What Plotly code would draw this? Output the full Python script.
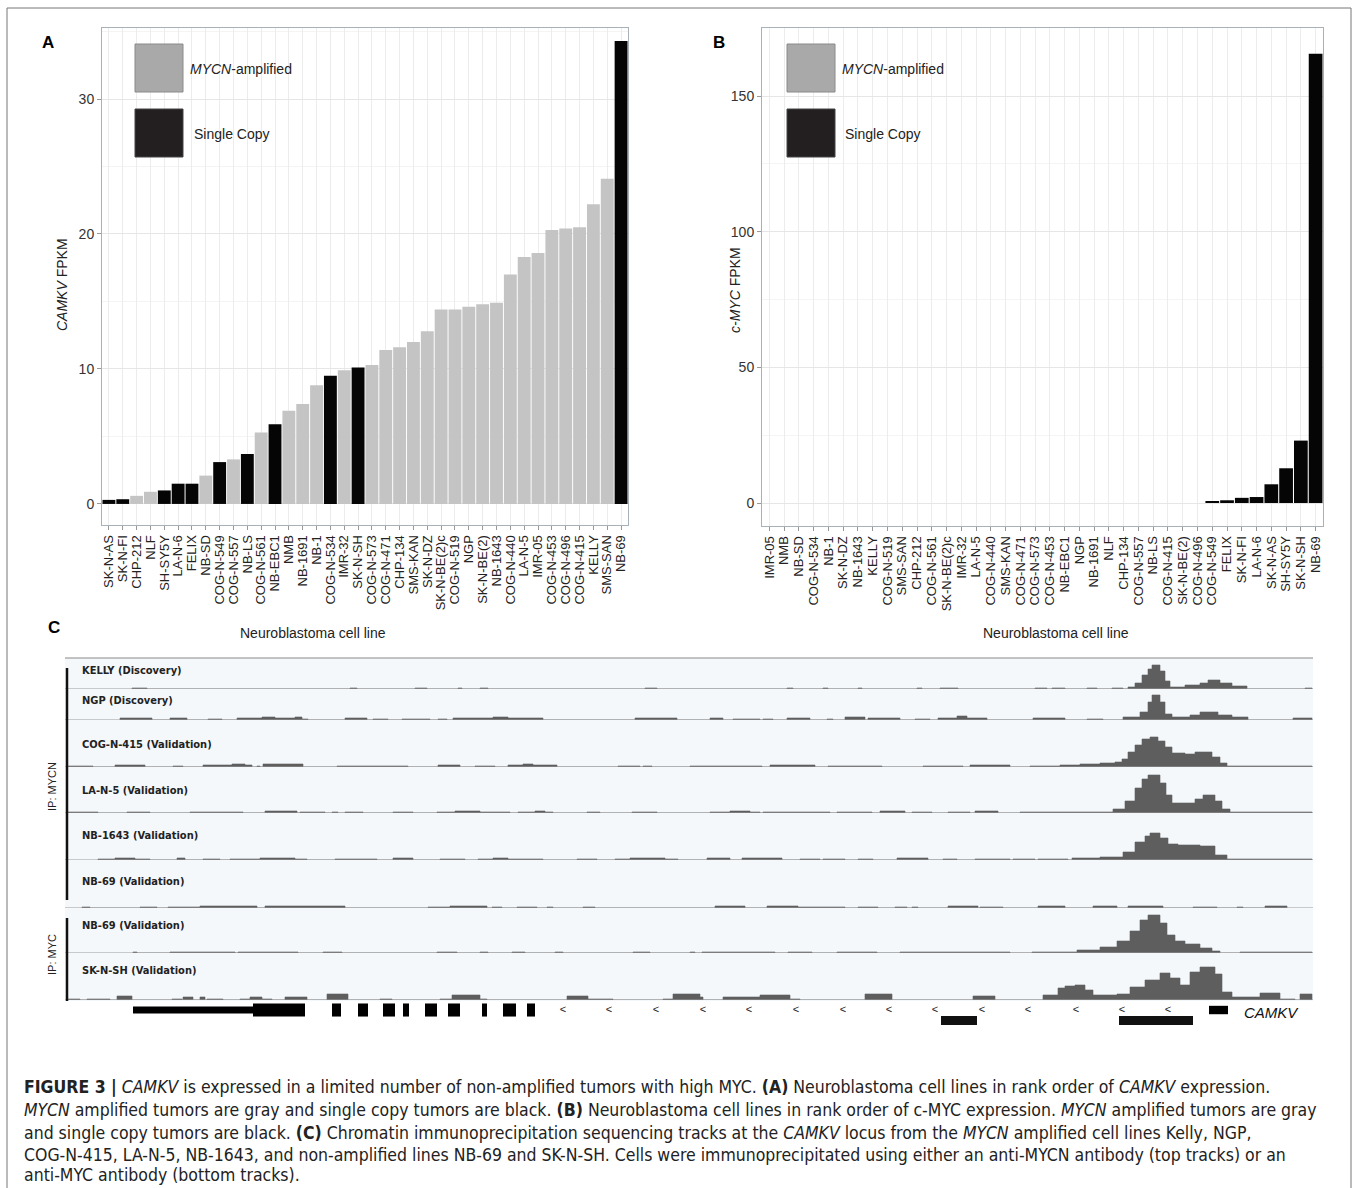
import plotly.graph_objects as go

W, H = 1358, 1188
def X(px): return px / W
def Y(py): return 1 - py / H

# ---------------- Panel A data ----------------
A_labels = ["SK-N-AS", "SK-N-FI", "CHP-212", "NLF", "SH-SY5Y", "LA-N-6", "FELIX", "NB-SD",
            "COG-N-549", "COG-N-557", "NB-LS", "COG-N-561", "NB-EBC1", "NMB", "NB-1691", "NB-1",
            "COG-N-534", "IMR-32", "SK-N-SH", "COG-N-573", "COG-N-471", "CHP-134", "SMS-KAN",
            "SK-N-DZ", "SK-N-BE(2)c", "COG-N-519", "NGP", "SK-N-BE(2)", "NB-1643", "COG-N-440",
            "LA-N-5", "IMR-05", "COG-N-453", "COG-N-496", "COG-N-415", "KELLY", "SMS-SAN", "NB-69"]
A_values = [0.3, 0.35, 0.6, 0.9, 1.0, 1.5, 1.5, 2.1, 3.1, 3.3, 3.7, 5.3, 5.9, 6.9, 7.4, 8.8,
            9.5, 9.9, 10.1, 10.3, 11.4, 11.6, 12.0, 12.8, 14.4, 14.4, 14.6, 14.8, 14.9, 17.0,
            18.3, 18.6, 20.3, 20.4, 20.5, 22.2, 24.1, 34.3]
single_copy = ["SK-N-AS", "SK-N-FI", "SH-SY5Y", "LA-N-6", "FELIX", "COG-N-549", "NB-LS",
               "NB-EBC1", "COG-N-534", "SK-N-SH", "NB-69"]

# ---------------- Panel B data ----------------
B_labels = ["IMR-05", "NMB", "NB-SD", "COG-N-534", "NB-1", "SK-N-DZ", "NB-1643", "KELLY",
            "COG-N-519", "SMS-SAN", "CHP-212", "COG-N-561", "SK-N-BE(2)c", "IMR-32", "LA-N-5",
            "COG-N-440", "SMS-KAN", "COG-N-471", "COG-N-573", "COG-N-453", "NB-EBC1", "NGP",
            "NB-1691", "NLF", "CHP-134", "COG-N-557", "NB-LS", "COG-N-415", "SK-N-BE(2)",
            "COG-N-496", "COG-N-549", "FELIX", "SK-N-FI", "LA-N-6", "SK-N-AS", "SH-SY5Y",
            "SK-N-SH", "NB-69"]
B_values = [0, 0, 0, 0, 0, 0, 0, 0, 0, 0, 0, 0, 0, 0, 0, 0, 0, 0, 0, 0, 0, 0, 0, 0, 0, 0, 0,
            0, 0, 0, 0.5, 1.0, 1.9, 2.2, 6.9, 12.8, 23.0, 165.6]

GRAY_BAR = "#c4c4c4"
BLACK_BAR = "#050505"

# ---------------- Panel C data (segments: start, end, signal) ----------------
track_names = ["KELLY (Discovery)", "NGP (Discovery)", "COG-N-415 (Validation)",
               "LA-N-5 (Validation)", "NB-1643 (Validation)", "NB-69 (Validation)",
               "NB-69 (Validation)", "SK-N-SH (Validation)"]

kelly_mycn = [(132,147,1),(350,357,1),(415,427,1),(458,462,1),(480,488,1),(645,657,1),(787,793,1),
    (823,828,1),(858,862,1),(917,922,1),(940,958,1),(1035,1047,1),(1052,1065,1),(1087,1097,1),
    (1112,1123,1),(1128,1135,2),(1135,1142,6),(1142,1148,14),(1148,1152,20),(1152,1160,24),
    (1160,1165,18),(1165,1170,8),(1170,1185,2),(1185,1200,4),(1200,1208,6),(1208,1220,9),
    (1220,1232,6),(1232,1247,3),(1305,1312,1)]
ngp_mycn = [(120,152,2),(170,187,2),(208,222,1),(237,262,2),(262,275,3),(275,295,2),(295,302,3),
    (302,308,1),(345,367,2),(373,388,1),(402,430,1),(438,447,1),(453,493,2),(493,508,3),
    (508,543,2),(635,677,2),(710,723,2),(733,760,1),(763,773,1),(787,810,2),(827,833,1),
    (845,865,3),(868,900,2),(915,930,1),(938,957,2),(957,967,4),(967,987,2),(1033,1065,2),
    (1087,1103,1),(1123,1140,3),(1140,1148,8),(1148,1152,18),(1152,1160,25),(1160,1165,18),
    (1165,1172,6),(1172,1190,3),(1190,1200,5),(1200,1218,8),(1218,1232,5),(1232,1248,3),
    (1293,1312,2)]
cog415_mycn = [(68,93,1),(115,145,2),(173,183,1),(203,232,2),(232,245,3),(245,252,2),(257,260,1),
    (263,303,3),(337,408,1),(438,460,2),(475,495,1),(508,523,2),(523,533,3),(533,557,2),
    (618,640,1),(643,652,1),(690,762,1),(770,815,2),(828,882,1),(923,963,1),(970,1010,2),
    (1030,1060,1),(1060,1080,2),(1080,1100,3),(1100,1115,4),(1115,1122,5),(1122,1128,8),
    (1128,1135,15),(1135,1142,22),(1142,1150,28),(1150,1158,30),(1158,1165,26),(1165,1172,20),
    (1172,1185,14),(1185,1195,13),(1195,1212,15),(1212,1220,10),(1220,1227,4),(1227,1312,1)]
lan5_mycn = [(68,98,1),(127,150,1),(190,243,1),(265,297,2),(300,325,1),(332,338,1),(345,363,1),
    (393,413,1),(437,455,1),(455,480,2),(480,510,1),(518,535,1),(535,545,2),(545,553,1),
    (587,600,1),(632,657,1),(710,730,1),(730,750,2),(750,760,1),(763,830,1),(837,872,1),
    (880,905,2),(912,932,1),(948,970,1),(975,998,2),(1020,1113,1),(1113,1125,4),(1125,1135,12),
    (1135,1142,25),(1142,1148,34),(1148,1160,38),(1160,1166,30),(1166,1172,18),(1172,1195,10),
    (1195,1203,14),(1203,1215,18),(1215,1222,12),(1222,1230,4),(1230,1312,1)]
nb1643_mycn = [(98,115,1),(115,135,2),(135,150,1),(177,185,2),(203,220,1),(230,260,1),(260,295,2),
    (295,307,1),(335,377,1),(393,413,2),(440,465,1),(478,493,1),(493,508,2),(508,543,1),
    (577,597,1),(615,630,1),(630,665,2),(665,678,1),(707,730,2),(742,782,2),(800,820,1),
    (823,845,1),(858,873,1),(897,928,2),(943,957,1),(975,1010,1),(1013,1035,1),(1038,1068,1),
    (1072,1100,2),(1100,1123,3),(1123,1135,8),(1135,1145,18),(1145,1150,24),(1150,1160,27),
    (1160,1168,22),(1168,1178,16),(1178,1200,15),(1200,1215,14),(1215,1227,5),(1227,1312,1)]
nb69_mycn = [(82,90,1),(140,157,1),(168,200,1),(200,257,2),(265,345,2),(428,450,1),(450,487,2),
    (492,502,1),(517,537,1),(547,553,1),(583,595,1),(715,745,2),(767,798,2),(798,845,1),
    (858,878,1),(895,907,1),(912,918,1),(948,978,2),(980,1003,1),(1038,1065,2),(1093,1117,2),
    (1128,1163,2),(1193,1217,1),(1237,1243,1),(1265,1287,2)]
nb69_myc = [(133,137,1),(170,235,1),(238,298,1),(323,342,1),(437,457,1),(480,488,1),(512,525,1),
    (555,563,1),(633,650,1),(690,695,1),(702,775,1),(788,812,1),(837,877,1),(900,1010,1),
    (1032,1077,1),(1077,1100,3),(1100,1117,6),(1117,1130,12),(1130,1140,22),(1140,1148,33),
    (1148,1160,38),(1160,1167,30),(1167,1175,18),(1175,1185,12),(1185,1200,9),(1200,1212,5),
    (1212,1220,2),(1240,1312,1)]
sknsh_myc = [(67,80,1),(87,110,1),(117,132,4),(172,182,1),(183,193,3),(200,205,3),(207,223,1),
    (240,250,1),(250,262,3),(262,272,1),(285,307,3),(327,348,6),(380,392,1),(440,452,1),
    (452,480,5),(480,487,1),(567,588,4),(588,613,1),(663,673,1),(673,700,6),(700,703,3),
    (723,760,3),(760,790,5),(790,800,1),(865,892,6),(973,995,4),(1043,1058,5),(1058,1065,12),
    (1065,1075,14),(1075,1085,15),(1085,1093,10),(1093,1117,5),(1117,1130,6),(1130,1145,13),
    (1145,1160,20),(1160,1170,27),(1170,1180,22),(1180,1190,15),(1190,1200,28),(1200,1215,33),
    (1215,1222,26),(1222,1232,8),(1232,1260,3),(1260,1280,7),(1280,1295,1),(1300,1312,6)]
track_data = [kelly_mycn, ngp_mycn, cog415_mycn, lan5_mycn, nb1643_mycn, nb69_mycn, nb69_myc, sknsh_myc]

# gene model (CAMKV, minus strand)
gene_utr = [(133, 253)]
gene_exons = [(253, 305), (332, 341), (358, 368), (383, 395), (403, 409), (425, 437), (448, 460),
              (482, 487), (503, 516), (527, 535)]
gene_arrows = [563, 609, 656, 703, 749, 796, 843, 889, 935, 982, 1028, 1076, 1122, 1168]
other_blocks_low = [(941, 977), (1119, 1193)]
other_blocks_high = [(1209, 1228)]
LOCUS = (65, 1313)

# ---------------- layout geometry (px) ----------------
track_rows = [(659, 689), (689, 720), (720, 767), (767, 813), (813, 860), (860, 908), (911, 953), (953, 1000)]
label_py = [670, 700, 745, 790, 835, 881, 925, 970]
TRACK_COLOR = "#5e5e5e"
FONT = "Liberation Sans, Arial, sans-serif"
NARROW = "Liberation Sans Narrow, DejaVu Sans Condensed, Liberation Sans, sans-serif"

fig = go.Figure()

fig.add_trace(go.Bar(x=A_labels, y=A_values,
                     marker=dict(color=[BLACK_BAR if c in single_copy else GRAY_BAR for c in A_labels], line=dict(width=0)),
                     xaxis="x", yaxis="y", showlegend=False))
fig.add_trace(go.Bar(x=B_labels, y=B_values,
                     marker=dict(color=[BLACK_BAR if c in single_copy else GRAY_BAR for c in B_labels], line=dict(width=0)),
                     xaxis="x2", yaxis="y2", showlegend=False))

for i, segs in enumerate(track_data):
    xs, ys = [], []
    for s, e, h in segs:
        xs += [s, s, e, e]
        ys += [0, h, h, 0]
    fig.add_trace(go.Scatter(x=xs, y=ys, mode="lines", fill="tozeroy", fillcolor=TRACK_COLOR,
                             line=dict(color=TRACK_COLOR, width=0.6), xaxis="x3", yaxis=f"y{i+3}",
                             showlegend=False, hoverinfo="skip"))

fig.add_trace(go.Scatter(x=gene_arrows, y=[0] * len(gene_arrows), mode="text", text=["<"] * len(gene_arrows),
                         textfont=dict(size=11, color="#222", family=FONT), xaxis="x3", yaxis="y11",
                         showlegend=False, hoverinfo="skip"))

shapes = []
annotations = []

def ann(px, py, text, size, family=FONT, color="#222", xanchor="center", angle=0):
    annotations.append(dict(xref="paper", yref="paper", x=X(px), y=Y(py), xanchor=xanchor, yanchor="middle",
                            text=text, showarrow=False, textangle=angle,
                            font=dict(size=size, family=family, color=color)))

# outer border
shapes.append(dict(type="rect", xref="paper", yref="paper", x0=X(7), x1=X(1351), y0=Y(1200), y1=Y(8),
                   line=dict(color="#777", width=1)))

# legends A and B
for (gx, tx1, tx2) in [(135, 188, 192), (787, 840, 843)]:
    shapes.append(dict(type="rect", xref="paper", yref="paper", x0=X(gx), x1=X(gx + 48), y0=Y(92), y1=Y(44),
                       fillcolor="#a9a9a9", line=dict(color="#8a8a8a", width=1)))
    shapes.append(dict(type="rect", xref="paper", yref="paper", x0=X(gx), x1=X(gx + 48), y0=Y(157), y1=Y(109),
                       fillcolor="#231f20", line=dict(color="#444", width=1)))
    ann(tx1, 69, "<i>MYCN</i>-amplified", 14, xanchor="left")
    ann(tx2, 134, "Single Copy", 14, xanchor="left")

# panel letters
for txt, px, py in [("A", 40, 42), ("B", 711, 42), ("C", 46, 627)]:
    ann(px, py, f"<b>{txt}</b>", 17, color="#000", xanchor="left")

# axis titles
ann(62, 285, "<i>CAMKV</i> FPKM", 14, angle=-90)
ann(735, 290, "<i>c-MYC</i> FPKM", 14, angle=-90)
ann(313, 633, "Neuroblastoma cell line", 14)
ann(1056, 633, "Neuroblastoma cell line", 14)

# track background and lines
shapes.append(dict(type="rect", xref="paper", yref="paper", x0=X(65), x1=X(1313), y0=Y(1001), y1=Y(658),
                   fillcolor="#f4f8fb", line=dict(width=0), layer="below"))
shapes.append(dict(type="line", xref="paper", yref="paper", x0=X(65), x1=X(1313), y0=Y(658), y1=Y(658),
                   line=dict(color="#888", width=1)))
for i in range(len(track_data)):
    shapes.append(dict(type="line", xref="x3 domain", yref=f"y{i+3}", x0=0, x1=1, y0=0, y1=0,
                       line=dict(color="#9a9a9a", width=1)))
    ann(80, label_py[i], f"<b>{track_names[i]}</b>", 11, family=NARROW, xanchor="left")

# IP group brackets
shapes.append(dict(type="line", xref="paper", yref="paper", x0=X(67), x1=X(67), y0=Y(900), y1=Y(668),
                   line=dict(color="#111", width=2.5)))
shapes.append(dict(type="line", xref="paper", yref="paper", x0=X(67), x1=X(67), y0=Y(1001), y1=Y(918),
                   line=dict(color="#111", width=2.5)))
ann(52, 787, "IP: MYCN", 11, angle=-90)
ann(52, 955, "IP: MYC", 11, angle=-90)

# gene model
for s, e in gene_utr:
    shapes.append(dict(type="rect", xref="x3", yref="y11", x0=s, x1=e, y0=-0.33, y1=0.33,
                       fillcolor="#000", line=dict(width=0)))
for s, e in gene_exons:
    shapes.append(dict(type="rect", xref="x3", yref="y11", x0=s, x1=e, y0=-0.62, y1=0.62,
                       fillcolor="#000", line=dict(width=0)))
for s, e in other_blocks_low:
    shapes.append(dict(type="rect", xref="x3", yref="y11", x0=s, x1=e, y0=-1.43, y1=-0.57,
                       fillcolor="#111", line=dict(width=0)))
for s, e in other_blocks_high:
    shapes.append(dict(type="rect", xref="x3", yref="y11", x0=s, x1=e, y0=-0.4, y1=0.4,
                       fillcolor="#000", line=dict(width=0)))
ann(1242, 1012, "<i>CAMKV</i>", 15, color="#111", xanchor="left")

# caption
caption = [
    "<b>FIGURE 3 |</b> <i>CAMKV</i> is expressed in a limited number of non-amplified tumors with high MYC. <b>(A)</b> Neuroblastoma cell lines in rank order of <i>CAMKV</i> expression.",
    "<i>MYCN</i> amplified tumors are gray and single copy tumors are black. <b>(B)</b> Neuroblastoma cell lines in rank order of c-MYC expression. <i>MYCN</i> amplified tumors are gray",
    "and single copy tumors are black. <b>(C)</b> Chromatin immunoprecipitation sequencing tracks at the <i>CAMKV</i> locus from the <i>MYCN</i> amplified cell lines Kelly, NGP,",
    "COG-N-415, LA-N-5, NB-1643, and non-amplified lines NB-69 and SK-N-SH. Cells were immunoprecipitated using either an anti-MYCN antibody (top tracks) or an",
    "anti-MYC antibody (bottom tracks).",
]
cap_py = [1087, 1110, 1133, 1155, 1175]
for t, py in zip(caption, cap_py):
    ann(22, py, t, 17.5, family=NARROW, xanchor="left")

bar_axis_common = dict(showline=True, linecolor="#a8b0b8", linewidth=1, mirror=True, showgrid=True,
                       gridcolor="#ececec", ticks="outside", ticklen=4, tickcolor="#999",
                       tickangle=-90, tickfont=dict(size=13, family=FONT, color="#222"), fixedrange=True)
yaxis_common = dict(showline=True, linecolor="#a8b0b8", linewidth=1, mirror=True, showgrid=True,
                    gridcolor="#e6e6e6", ticks="outside", ticklen=4, tickcolor="#999", zeroline=False,
                    tickfont=dict(size=14, family=FONT, color="#333"))

layout = dict(
    width=W, height=H, margin=dict(l=0, r=0, t=0, b=0), paper_bgcolor="white", plot_bgcolor="white",
    bargap=0.07, showlegend=False, shapes=shapes, annotations=annotations,
    xaxis=dict(domain=[X(102), X(628)], anchor="y", tickmode="array", tickvals=A_labels, ticktext=A_labels,
               **bar_axis_common),
    yaxis=dict(domain=[Y(525), Y(28)], anchor="x", range=[-1.56, 35.26], tickvals=[0, 10, 20, 30],
               minor=dict(dtick=5, showgrid=True, gridcolor="#f4f4f4"), **yaxis_common),
    xaxis2=dict(domain=[X(762), X(1323)], anchor="y2", tickmode="array", tickvals=B_labels, ticktext=B_labels,
                **bar_axis_common),
    yaxis2=dict(domain=[Y(526), Y(28)], anchor="x2", range=[-8.48, 175.1], tickvals=[0, 50, 100, 150],
                minor=dict(dtick=25, showgrid=True, gridcolor="#f4f4f4"), **yaxis_common),
    xaxis3=dict(domain=[X(LOCUS[0]), X(LOCUS[1])], anchor="y3", range=list(LOCUS), visible=False),
)
for i, (t, b) in enumerate(track_rows):
    layout[f"yaxis{i+3}"] = dict(domain=[Y(b), Y(t)], anchor="x3", range=[0, b - t], visible=False)
layout["yaxis11"] = dict(domain=[Y(1030), Y(1001)], anchor="x3", range=[-1.9, 0.857], visible=False)

fig.update_layout(**layout)
fig.write_html("out.html", config={"displayModeBar": False},
               post_script="document.body.style.margin='0';document.body.style.overflow='hidden';")
